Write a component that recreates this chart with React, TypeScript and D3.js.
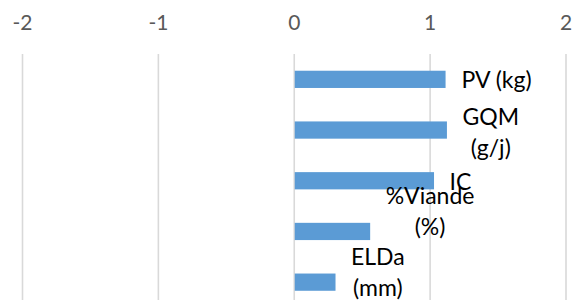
import React from "react";
import * as d3 from "d3";

const categories = ["PV (kg)", "GQM (g/j)", "IC", "%Viande (%)", "ELDa (mm)"];
const labelLines = [["PV (kg)"], ["GQM", "(g/j)"], ["IC"], ["%Viande", "(%)"], ["ELDa", "(mm)"]];
const values = [1.11, 1.12, 1.025, 0.555, 0.3];
const xTicks = [-2, -1, 0, 1, 2];
// vertical nudge of each data label block (px), as placed in the original
const labelNudge = [0, 2, 1, -20, -10];

const W = 579;
const H = 300;
const FONT = "Lato, 'Open Sans', sans-serif";
const LABEL_SIZE = 23;
const TICK_SIZE = 21;
const LINE_H = 30.5;

let ctx: CanvasRenderingContext2D | null = null;
function textWidth(t: string, size: number) {
  if (!ctx) ctx = document.createElement("canvas").getContext("2d");
  if (!ctx) return t.length * size * 0.5;
  ctx.font = `${size}px Lato`;
  return ctx.measureText(t).width;
}

export default function App() {
  const top = 54;
  const step = 50.7;
  const x = d3.scaleLinear().domain([-2, 2]).range([22.5, 566]);
  const y = d3
    .scaleBand<string>()
    .domain(categories)
    .range([top, top + step * categories.length])
    .paddingInner(0.66)
    .paddingOuter(0.33);

  return (
    <svg
      width={W}
      height={H}
      style={{ position: "absolute", left: 0, top: 0, background: "#fff" }}
    >
      {xTicks.map((t) => (
        <line
          key={"g" + t}
          x1={x(t)}
          x2={x(t)}
          y1={top}
          y2={H + 20}
          stroke="#d9d9d9"
          strokeWidth={1.6}
        />
      ))}
      {xTicks.map((t) => (
        <text
          key={"t" + t}
          x={x(t)}
          y={30}
          textAnchor="middle"
          fontFamily={FONT}
          fontSize={TICK_SIZE}
          fill="#595959"
        >
          {t}
        </text>
      ))}
      {categories.map((c, i) => {
        const v = values[i];
        return (
          <rect
            key={"b" + c}
            x={x(Math.min(0, v)) + 0.5}
            y={y(c)!}
            width={Math.abs(x(v) - x(0))}
            height={y.bandwidth()}
            fill="#5b9bd5"
          />
        );
      })}
      {categories.map((c, i) => {
        const v = values[i];
        const lines = labelLines[i];
        const wMax = Math.max(...lines.map((l) => textWidth(l, LABEL_SIZE)));
        const cx = x(v) + 16 + wMax / 2;
        const cy = y(c)! + y.bandwidth() / 2 + labelNudge[i];
        const y0 = cy - ((lines.length - 1) * LINE_H) / 2;
        return (
          <text
            key={"l" + c}
            textAnchor="middle"
            fontFamily={FONT}
            fontSize={LABEL_SIZE}
            fill="#000"
          >
            {lines.map((l, j) => (
              <tspan key={j} x={cx} y={y0 + j * LINE_H} dy="0.36em">
                {l}
              </tspan>
            ))}
          </text>
        );
      })}
    </svg>
  );
}
